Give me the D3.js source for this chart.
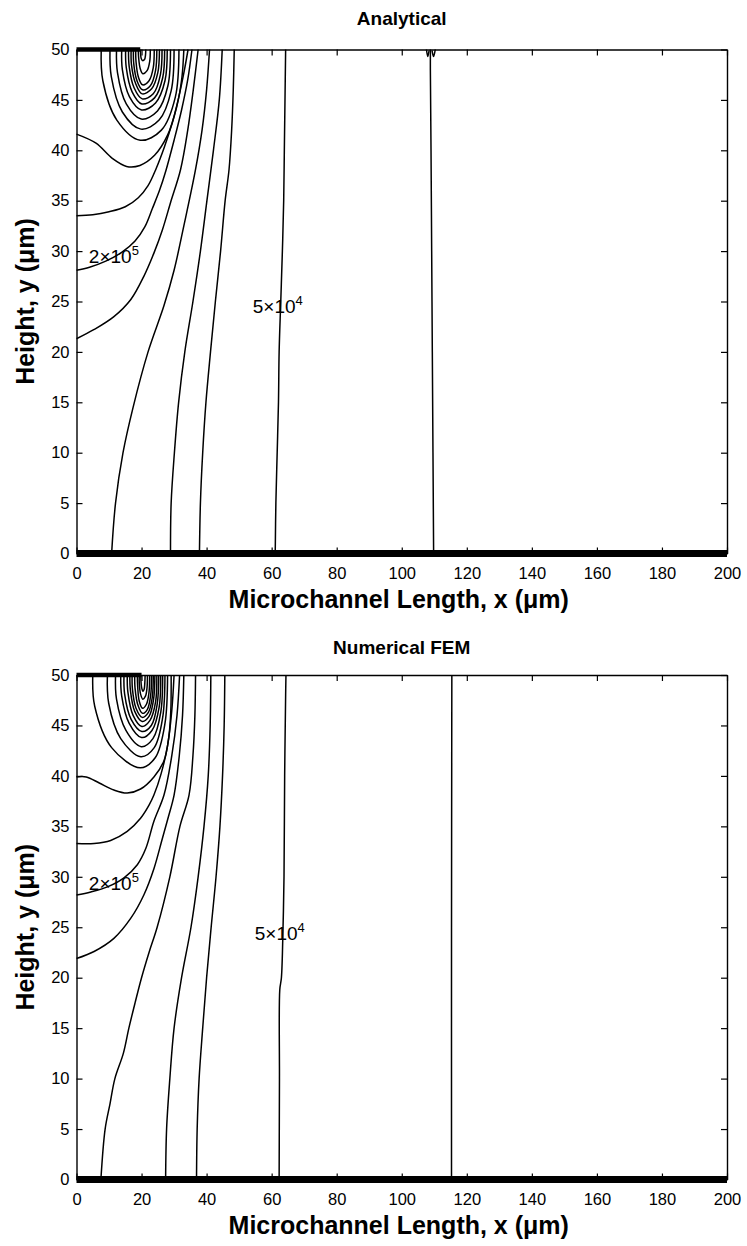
<!DOCTYPE html>
<html>
<head>
<meta charset="utf-8">
<script src="https://cdn.jsdelivr.net/npm/d3@7"></script>
<style>
  body { margin: 0; background: #fff; }
  svg { display: block; }
</style>
</head>
<body>
<script>
// Axis ticks (µm)
const xTicks = [0, 20, 40, 60, 80, 100, 120, 140, 160, 180, 200];
const yTicks = [0, 5, 10, 15, 20, 25, 30, 35, 40, 45, 50];

// ---------- Analytical solution: contour lines, [x (µm), y (µm)] ----------
// closed nest of contours around the hot spot on the top wall
const analyticalLoops = [
  [[7.6,50],[8.1,46.9],[12.4,43.0],[19.6,41.0],[26.1,42.0],[30.4,45.3],[31.5,50]],
  [[10.3,50],[10.7,47.3],[14.1,43.8],[19.8,42.1],[25.4,43.0],[29.1,45.9],[30.0,50]],
  [[12.3,50],[12.6,47.7],[15.3,44.6],[19.9,43.1],[24.9,43.9],[28.1,46.4],[28.9,50]],
  [[13.9,50],[14.1,48.0],[16.3,45.3],[20.0,44.0],[24.3,44.7],[27.2,46.9],[27.9,50]],
  [[15.1,50],[15.3,48.2],[17.1,45.8],[20.1,44.6],[24.0,45.2],[26.5,47.2],[27.1,50]],
  [[16.0,50],[16.2,48.3],[17.7,46.2],[20.2,45.1],[23.6,45.6],[25.8,47.5],[26.3,50]],
  [[16.8,50],[16.9,48.5],[18.2,46.6],[20.2,45.6],[23.1,46.1],[25.0,47.7],[25.5,50]],
  [[17.5,50],[17.6,48.6],[18.6,46.9],[20.3,46.0],[22.7,46.4],[24.3,47.9],[24.7,50]],
  [[18.2,50],[18.3,48.8],[19.0,47.3],[20.3,46.5],[22.3,46.9],[23.6,48.2],[23.9,50]],
  [[19.0,50],[19.1,49.2],[19.6,48.1],[20.4,47.6],[21.7,47.9],[22.5,48.8],[22.7,50]],
  [[19.7,50],[19.7,49.6],[19.9,49.1],[20.3,48.9],[20.9,49.0],[21.2,49.4],[21.3,50]]
];
// open contours running from the inlet wall / bottom wall to the top wall
const analyticalLines = [
  [[0,41.6],[6,40.7],[11,39.2],[15.4,38.4],[19.5,38.5],[24,39.5],[28,41.5],[30.8,44.3],[32.4,47.2],[33,50]],
  [[0,33.5],[5,33.6],[10,33.9],[15,34.4],[19,35.3],[22,36.5],[24.5,38.2],[27,40.3],[29.5,42.8],[31.6,45.5],[33.2,48],[34.3,50]],
  [[0,28.1],[4,28.4],[9,29.0],[14,29.9],[18,31.0],[21,32.4],[23.3,34.2],[25.5,36],[27.5,38],[30,41],[32.3,44],[34.2,47],[35.5,50]],
  [[0,21.3],[5.3,22.2],[11.5,23.5],[16.7,25.2],[20.7,27.5],[23.8,29.8],[26.4,32.1],[28.9,34.8],[32,38.1],[34.2,42],[35.9,46],[37.4,50]],
  [[10.8,0],[12,5],[14.3,10],[17.4,14.5],[22,20],[26.9,24.6],[30,28.1],[33,32.5],[36.6,38.1],[38.6,42],[40,46],[40.9,50]],
  [[28.9,0],[29.1,5],[30.1,10],[31.4,15],[33.3,20],[35.8,25],[38.1,30],[40.1,35],[42.1,40],[43.9,45],[44.8,50]],
  [[37.8,0],[38.1,5],[38.8,10],[39.8,15],[41.2,20],[42.7,25],[44.3,30],[45.7,35],[46.9,38.1],[47.7,42],[48.2,46],[48.5,50]],
  [[61.1,0],[61.3,5],[61.7,10],[62.1,15],[62.3,20],[62.8,25],[63.3,30],[63.7,35],[63.9,40],[64.1,45],[64.3,50]],
  [[109.8,0],[109.6,10],[109.4,20],[109.2,30],[109.0,40],[108.8,48],[108.8,50]],
  [[107.6,50],[108.0,49.3],[108.4,49.9]],
  [[109.3,49.9],[109.8,49.3],[110.3,50]]
];
// densely packed contours collapsing onto the walls
const analyticalTopWall = [[0,50],[19.6,50]];
const analyticalBottomWall = [[0,0],[200,0]];
// contour level labels: anchor (µm), mantissa, exponent
const analyticalLabels = [
  {x: 3.8, y: 28.8, text: "2×10", exp: "5"},
  {x: 54.2, y: 23.9, text: "5×10", exp: "4"}
];

// ---------- Numerical FEM solution ----------
const numericalLoops = [
  [[5.0,50],[5.6,46.9],[10.8,42.8],[19.6,40.8],[24.2,41.8],[27.2,45.2],[28.0,50]],
  [[9.5,50],[9.9,47.2],[13.6,43.7],[19.8,41.9],[23.9,42.8],[26.5,45.8],[27.2,50]],
  [[12.0,50],[12.3,47.6],[15.2,44.5],[19.9,42.9],[23.5,43.7],[25.9,46.3],[26.5,50]],
  [[13.6,50],[13.9,47.9],[16.2,45.2],[20.0,43.8],[23.2,44.5],[25.4,46.8],[25.9,50]],
  [[14.6,50],[14.8,48.1],[16.8,45.6],[20.1,44.4],[23.0,45.0],[24.8,47.1],[25.3,50]],
  [[15.6,50],[15.8,48.3],[17.4,46.0],[20.1,44.9],[22.6,45.5],[24.3,47.3],[24.7,50]],
  [[16.4,50],[16.6,48.4],[17.9,46.4],[20.2,45.4],[22.3,45.9],[23.7,47.6],[24.1,50]],
  [[17.1,50],[17.2,48.6],[18.3,46.7],[20.2,45.8],[22.1,46.3],[23.3,47.8],[23.6,50]],
  [[17.9,50],[18.0,48.7],[18.9,47.0],[20.3,46.2],[21.8,46.6],[22.8,48.0],[23.1,50]],
  [[18.7,50],[18.8,48.9],[19.3,47.4],[20.3,46.7],[21.5,47.1],[22.3,48.3],[22.5,50]],
  [[19.3,50],[19.3,49.2],[19.7,48.1],[20.4,47.6],[21.2,47.9],[21.7,48.8],[21.8,50]],
  [[19.8,50],[19.8,49.5],[20.0,48.8],[20.4,48.4],[20.8,48.6],[21.0,49.2],[21.1,50]]
];
const numericalLines = [
  [[0,39.9],[3,39.9],[7,39.3],[11.5,38.6],[15.6,38.3],[19.7,38.7],[23.8,39.9],[26.9,41.5],[28.4,43.9],[29,46.5],[29.1,50]],
  [[0,33.3],[5.4,33.3],[10.5,33.6],[15.6,34.5],[19.7,35.8],[22.3,37.1],[23.8,38.1],[26,40.2],[28,43],[29.3,46.5],[30,50]],
  [[0,28.2],[4.4,28.5],[9.5,29.0],[14.6,29.9],[18.7,31.2],[21.3,32.8],[23.8,35.5],[26.9,38.1],[29.3,42],[30.9,46],[31.7,50]],
  [[0,21.9],[5.4,22.6],[11.5,23.9],[16.7,25.9],[20.7,28.2],[23.8,30.8],[26.4,33.8],[28.3,36],[30,38.1],[31.6,42],[32.6,46],[33,50]],
  [[7.5,0],[8.8,5],[10.3,7.5],[11.8,10],[14.4,12.5],[16.1,15],[18,17.5],[20,20],[22.3,22.5],[24.8,25],[28.7,30],[31.8,35],[34.6,38.1],[35.8,42],[36.4,46],[36.6,50]],
  [[27.4,0],[27.7,5],[28.7,10],[30,15],[32.3,20],[35.2,25],[37.4,30],[39.2,35],[40.5,40],[41.1,45],[41.3,50]],
  [[36.9,0],[37.1,5],[37.7,10],[38.8,15],[40,20],[41.4,25],[42.9,30],[44.1,35],[44.9,40],[45.4,45],[45.6,50]],
  [[62.3,0],[62.4,10],[62.5,18.8],[63.0,20],[63.5,25],[63.8,30],[64.0,40],[64.3,48],[64.4,50]],
  [[115.3,0],[115.3,25],[115.4,50]]
];
const numericalTopWall = [[0,50],[20,50]];
const numericalBottomWall = [[0,0],[200,0]];
const numericalLabels = [
  {x: 3.8, y: 28.7, text: "2×10", exp: "5"},
  {x: 54.8, y: 23.7, text: "5×10", exp: "4"}
];

// ---------- layout ----------
const W = 747, H = 1246;
const plotLeft = 76.5, plotRight = 727;
const panels = [
  {title: "Analytical", loops: analyticalLoops, lines: analyticalLines,
   topWall: analyticalTopWall, bottomWall: analyticalBottomWall, labels: analyticalLabels,
   top: 49.5, bottom: 553.5, titleY: 25},
  {title: "Numerical FEM", loops: numericalLoops, lines: numericalLines,
   topWall: numericalTopWall, bottomWall: numericalBottomWall, labels: numericalLabels,
   top: 675, bottom: 1179.5, titleY: 654}
];

const svg = d3.select("body").append("svg")
  .attr("width", W).attr("height", H)
  .style("font-family", "'Liberation Sans', Arial, Helvetica, sans-serif");
svg.append("rect").attr("width", W).attr("height", H).attr("fill", "#fff");

panels.forEach((p, i) => {
  const x = d3.scaleLinear().domain([0, 200]).range([plotLeft, plotRight]);
  const y = d3.scaleLinear().domain([0, 50]).range([p.bottom, p.top]);
  const g = svg.append("g");

  const clipId = "plot-clip-" + i;
  svg.append("defs").append("clipPath").attr("id", clipId)
    .append("rect")
    .attr("x", plotLeft - 4).attr("y", p.top - 3)
    .attr("width", plotRight - plotLeft + 8).attr("height", p.bottom - p.top + 8);

  const smooth = d3.line().x(d => x(d[0])).y(d => y(d[1]))
    .curve(d3.curveCatmullRom.alpha(0.5));
  const straight = d3.line().x(d => x(d[0])).y(d => y(d[1]));

  const marks = g.append("g").attr("clip-path", `url(#${clipId})`);

  // contour lines
  marks.selectAll("path.loop").data(p.loops).join("path")
    .attr("class", "loop")
    .attr("d", smooth)
    .attr("fill", "none").attr("stroke", "#000")
    .attr("stroke-width", 1.5).attr("stroke-linejoin", "round");
  marks.selectAll("path.open").data(p.lines).join("path")
    .attr("class", "open")
    .attr("d", smooth)
    .attr("fill", "none").attr("stroke", "#000")
    .attr("stroke-width", 1.5).attr("stroke-linejoin", "round");

  // contours crowding onto the walls
  marks.append("path").attr("d", straight(p.topWall))
    .attr("stroke", "#000").attr("stroke-width", 4.5).attr("fill", "none");
  marks.append("path").attr("d", straight(p.bottomWall))
    .attr("stroke", "#000").attr("stroke-width", 7).attr("fill", "none");

  // contour level labels
  const lab = g.selectAll("text.lev").data(p.labels).join("text")
    .attr("class", "lev")
    .attr("x", d => x(d.x)).attr("y", d => y(d.y))
    .attr("font-size", 19).attr("fill", "#000");
  lab.append("tspan").text(d => d.text);
  lab.append("tspan").attr("dy", -8).attr("font-size", 13).text(d => d.exp);

  // axes: ticks point inward on all four sides
  const axL = d3.axisLeft(y).tickValues(yTicks).tickSizeInner(-6).tickSizeOuter(0).tickPadding(7);
  const axB = d3.axisBottom(x).tickValues(xTicks).tickSizeInner(-6).tickSizeOuter(0).tickPadding(14);
  const axR = d3.axisRight(y).tickValues(yTicks).tickSizeInner(-6).tickSizeOuter(0).tickFormat("");
  const axT = d3.axisTop(x).tickValues(xTicks).tickSizeInner(-6).tickSizeOuter(0).tickFormat("");

  const styleAxis = sel => {
    sel.selectAll("path.domain").attr("stroke", "#000").attr("stroke-width", 1.4);
    sel.selectAll(".tick line").attr("stroke", "#000").attr("stroke-width", 1.2);
    sel.selectAll(".tick text").attr("fill", "#000")
      .attr("font-size", 16.5).attr("font-family", "'Liberation Sans', Arial, sans-serif");
  };
  g.append("g").attr("transform", `translate(${plotLeft},0)`).call(axL).call(styleAxis);
  g.append("g").attr("transform", `translate(0,${p.bottom})`).call(axB).call(styleAxis);
  g.append("g").attr("transform", `translate(${plotRight},0)`).call(axR).call(styleAxis);
  g.append("g").attr("transform", `translate(0,${p.top})`).call(axT).call(styleAxis);

  // titles and axis labels
  const midX = (plotLeft + plotRight) / 2;
  g.append("text").attr("x", midX).attr("y", p.titleY)
    .attr("text-anchor", "middle").attr("font-size", 19).attr("font-weight", "bold")
    .text(p.title);
  g.append("text").attr("x", midX - 3).attr("y", p.bottom + 54)
    .attr("text-anchor", "middle").attr("font-size", 25).attr("font-weight", "bold")
    .text("Microchannel Length, x (μm)");
  g.append("text")
    .attr("transform", `translate(34,${(p.top + p.bottom) / 2}) rotate(-90)`)
    .attr("text-anchor", "middle").attr("font-size", 25).attr("font-weight", "bold")
    .text("Height, y (μm)");
});
</script>
</body>
</html>
